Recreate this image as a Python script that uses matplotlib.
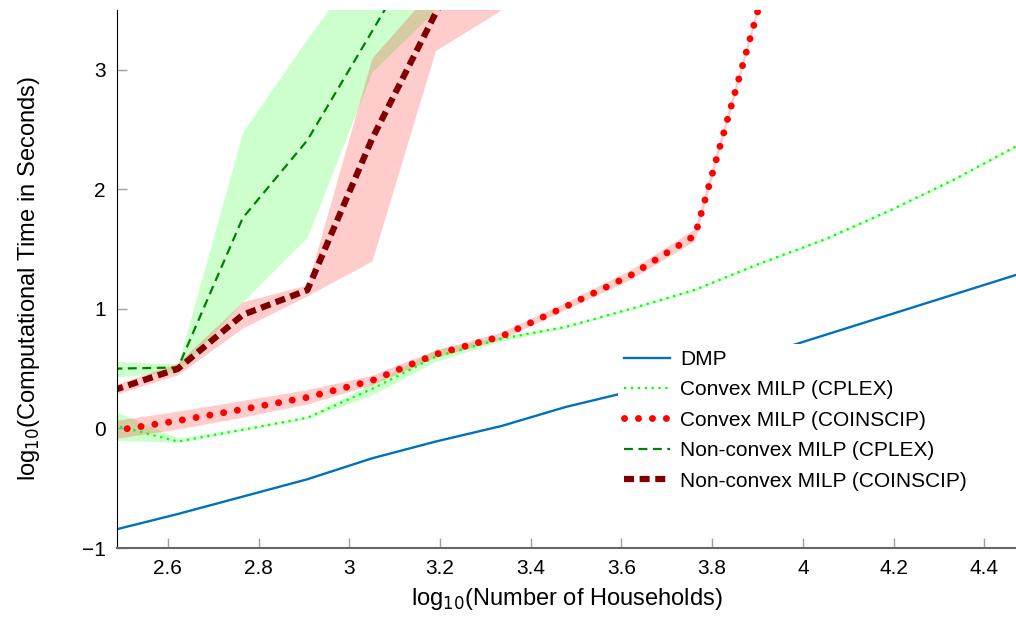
import numpy as np
import matplotlib.pyplot as plt

# log10 of number of households
x = [2.48, 2.6225, 2.765, 2.9075, 3.05, 3.19, 3.335, 3.4775, 3.62, 3.7625, 3.905, 4.0475, 4.19, 4.3325, 4.475]

# log10 of computational time (mean) per method
dmp = [-0.85, -0.715, -0.57, -0.425, -0.25, -0.11, 0.02, 0.18, 0.31, 0.46, 0.61, 0.78, 0.95, 1.12, 1.29]
cvx_cplex = [0.03, -0.11, -0.01, 0.09, 0.33, 0.60, 0.75, 0.85, 1.0, 1.16, 1.38, 1.58, 1.82, 2.08, 2.37]
cvx_cplex_lo = [-0.10, -0.115, -0.02, 0.08, 0.28, 0.56, 0.73, 0.84, 0.99, 1.15, 1.37, 1.57, 1.81, 2.07, 2.36]
cvx_cplex_hi = [0.15, -0.08, 0.00, 0.10, 0.38, 0.66, 0.77, 0.86, 1.01, 1.17, 1.39, 1.59, 1.83, 2.09, 2.38]

x_cc = x[:12]
cvx_coin = [-0.02, 0.065, 0.16, 0.26, 0.40, 0.62, 0.77, 1.02, 1.28, 1.615, 3.55, 5.5]
cvx_coin_lo = [-0.09, -0.01, 0.09, 0.20, 0.36, 0.59, 0.74, 0.99, 1.24, 1.565, 3.52, 5.45]
cvx_coin_hi = [0.06, 0.14, 0.23, 0.32, 0.44, 0.65, 0.80, 1.05, 1.32, 1.665, 3.58, 5.55]

x_nc = x[:6]
ncv_cplex = [0.50, 0.51, 1.76, 2.41, 3.32, 4.22]
ncv_cplex_lo = [0.43, 0.47, 1.06, 1.60, 2.98, 3.5]
ncv_cplex_hi = [0.56, 0.54, 2.48, 3.26, 4.0, 5.0]

x_nco = x[:7]
ncv_coin = [0.32, 0.50, 0.95, 1.157, 2.42, 3.47, 4.5]
ncv_coin_lo = [0.28, 0.45, 0.84, 1.11, 1.40, 3.16, 3.5]
ncv_coin_hi = [0.36, 0.55, 1.06, 1.20, 3.10, 3.70, 4.8]

xticks = [2.6, 2.8, 3.0, 3.2, 3.4, 3.6, 3.8, 4.0, 4.2, 4.4]
xticklabels = ["2.6", "2.8", "3", "3.2", "3.4", "3.6", "3.8", "4", "4.2", "4.4"]
yticks = [-1, 0, 1, 2, 3]
yticklabels = ["\u22121", "0", "1", "2", "3"]

plt.rcParams['font.family'] = ['Liberation Sans', 'DejaVu Sans']

fig = plt.figure(figsize=(10.16, 6.17), dpi=100)
ax = fig.add_axes([0.1152, 0.1118, 0.8848, 0.872])

# shaded ranges
ax.fill_between(x, cvx_cplex_lo, cvx_cplex_hi, color='#00ff00', alpha=0.2, lw=0)
ax.fill_between(x_cc, cvx_coin_lo, cvx_coin_hi, color='#ff0000', alpha=0.2, lw=0)
ax.fill_between(x_nc, ncv_cplex_lo, ncv_cplex_hi, color='#00ff00', alpha=0.2, lw=0)
ax.fill_between(x_nco, ncv_coin_lo, ncv_coin_hi, color='#ff0000', alpha=0.2, lw=0)

ax.plot(x, dmp, color='#0072bd', lw=1.7, label='DMP')
ax.plot(x, cvx_cplex, color='#00ff00', lw=1.6, ls=(0, (1, 2.1)), label='Convex MILP (CPLEX)')
ax.plot(x_cc, cvx_coin, color='#ff0000', lw=5, ls=(0, (0.01, 2.0)),
        dash_capstyle='round', label='Convex MILP (COINSCIP)')
ax.plot(x_nc, ncv_cplex, color='#008000', lw=1.6, ls=(0, (4, 2.5)), label='Non-convex MILP (CPLEX)')
ax.plot(x_nco, ncv_coin, color='#800000', lw=4.5, ls=(0, (1.6, 0.9)), label='Non-convex MILP (COINSCIP)')

ax.set_xlim(2.488, 4.47)
ax.set_ylim(-1, 3.5)
ax.set_xticks(xticks)
ax.set_xticklabels(xticklabels, fontsize=15, fontstretch='condensed')
ax.set_yticks(yticks)
ax.set_yticklabels(yticklabels, fontsize=15)
ax.tick_params(direction='in', length=7, width=1, color='#a0a0a0', pad=8)

for s in ['top', 'right']:
    ax.spines[s].set_visible(False)
ax.spines['left'].set_color('black')
ax.spines['bottom'].set_color('#666666')
ax.spines['bottom'].set_linewidth(1.5)

ax.set_xlabel('log$_{10}$(Number of Households)', fontsize=17, labelpad=6)
ax.set_ylabel('log$_{10}$(Computational Time in Seconds)', fontsize=17, labelpad=29)

leg = ax.legend(loc='upper left', bbox_to_anchor=(0.598, 0.46), bbox_transform=fig.transFigure,
                fontsize=15, frameon=True, facecolor='white', edgecolor='none', framealpha=1,
                handlelength=2.2, handletextpad=0.5, labelspacing=0.55, borderpad=0.3, fancybox=False)

fig.savefig('out.png', dpi=100)
